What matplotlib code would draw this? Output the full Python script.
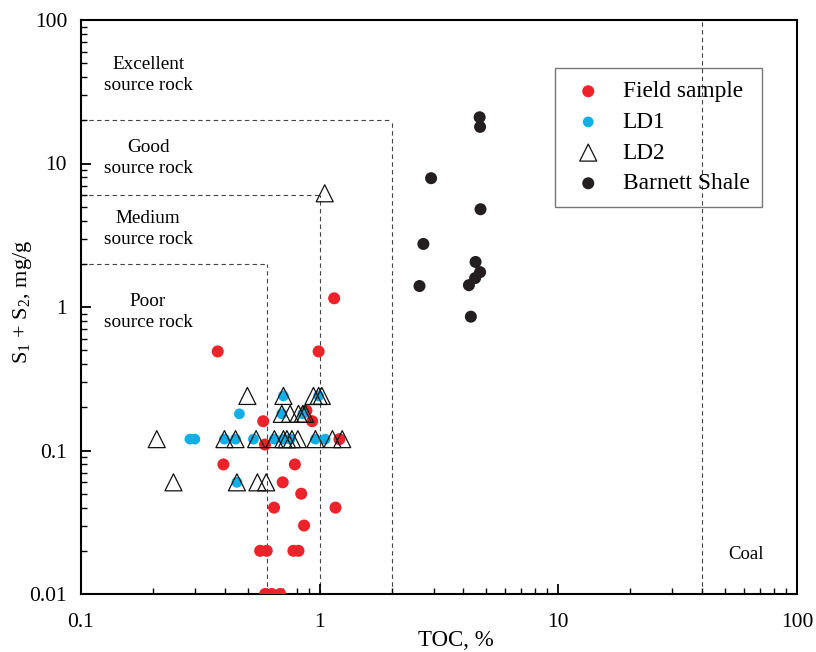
import matplotlib.pyplot as plt
from matplotlib.ticker import LogLocator, NullFormatter, FixedLocator, FixedFormatter

plt.rcParams['font.family'] = ['Liberation Serif', 'DejaVu Serif']
plt.rcParams['mathtext.fontset'] = 'custom'
plt.rcParams['mathtext.rm'] = 'Liberation Serif'

# Field sample (TOC %, S1+S2 mg/g)
field_toc = [0.374, 0.99, 1.15, 0.88, 0.58, 0.93, 1.21, 0.59, 0.395, 0.787, 0.70,
             0.837, 0.644, 1.165, 0.86, 0.563, 0.60, 0.776, 0.815, 0.591, 0.63, 0.683]
field_s = [0.49, 0.49, 1.15, 0.19, 0.16, 0.16, 0.12, 0.11, 0.08, 0.08, 0.06,
           0.05, 0.04, 0.04, 0.03, 0.02, 0.02, 0.02, 0.02, 0.01, 0.01, 0.01]

# LD1
ld1_toc = [0.461, 0.286, 0.30, 0.399, 0.444, 0.528, 0.646, 0.705, 0.752, 0.96,
           1.054, 0.705, 0.99, 0.694, 0.85, 0.45]
ld1_s = [0.18, 0.12, 0.12, 0.12, 0.12, 0.12, 0.12, 0.12, 0.12, 0.12,
         0.12, 0.24, 0.24, 0.18, 0.18, 0.06]

# LD2
ld2_toc = [1.05, 0.498, 0.705, 0.942, 0.99, 1.021,
           0.694, 0.752, 0.815, 0.85, 0.87,
           0.2077, 0.399, 0.444, 0.5417, 0.646, 0.705, 0.729, 0.765, 0.81, 0.96, 1.131, 1.243,
           0.244, 0.45, 0.5485, 0.597]
ld2_s = [6.2, 0.24, 0.24, 0.24, 0.24, 0.24,
         0.18, 0.18, 0.18, 0.18, 0.18,
         0.12, 0.12, 0.12, 0.12, 0.12, 0.12, 0.12, 0.12, 0.12, 0.12, 0.12, 0.12,
         0.06, 0.06, 0.06, 0.06]

# Barnett Shale
barnett_toc = [4.68, 4.70, 2.93, 4.72, 2.72, 4.50, 4.70, 4.48, 4.22, 2.62, 4.30]
barnett_s = [21.0, 18.0, 7.9, 4.8, 2.75, 2.06, 1.75, 1.59, 1.42, 1.40, 0.856]

# source rock class limits (TOC, S1+S2)
class_toc = [0.6, 1, 2]
class_s = [2, 6, 20]
coal_toc = 40
class_names = ["Poor\nsource rock", "Medium\nsource rock", "Good\nsource rock", "Excellent\nsource rock"]
class_label_y = [0.92, 3.5, 11.0, 41.5]

fig = plt.figure(figsize=(8.16, 6.52), dpi=100)
ax = fig.add_axes([81/816, 1-594/652, 716/816, 574/652])
ax.set_xscale('log')
ax.set_yscale('log')
ax.set_xlim(0.1, 100)
ax.set_ylim(0.01, 100)

dash = dict(color='#444444', lw=0.8, ls=(0, (4, 3)), zorder=1)
for t, s in zip(class_toc, class_s):
    ax.plot([t, t], [0.01, s], **dash)
    ax.plot([0.1, t], [s, s], **dash)
ax.plot([coal_toc, coal_toc], [0.01, 100], **dash)

for name, yy in zip(class_names, class_label_y):
    ax.text(0.191, yy, name, ha='center', va='center', fontsize=13.8, linespacing=1.3)
ax.text(61, 0.0187, "Coal", ha='center', va='center', fontsize=13.5)

ax.scatter(field_toc, field_s, s=75, color='#ee2229', edgecolors='none', label='Field sample', zorder=3)
ax.scatter(ld1_toc, ld1_s, s=60, color='#12aee8', edgecolors='none', label='LD1', zorder=3)
ax.scatter(ld2_toc, ld2_s, marker='^', s=150, facecolors='none', edgecolors='#111111',
           linewidths=0.9, label='LD2', zorder=4)
ax.scatter(barnett_toc, barnett_s, s=75, color='#231f20', edgecolors='none', label='Barnett Shale', zorder=3)

for sp in ax.spines.values():
    sp.set_linewidth(1.5)

ax.tick_params(which='both', direction='in', top=False, right=False, labelsize=15.5)
ax.tick_params(which='major', length=7, width=1.3)
ax.tick_params(which='minor', length=4, width=1.0)
ax.xaxis.set_major_locator(FixedLocator([0.1, 1, 10, 100]))
ax.xaxis.set_major_formatter(FixedFormatter(['0.1', '1', '10', '100']))
ax.yaxis.set_major_locator(FixedLocator([0.01, 0.1, 1, 10, 100]))
ax.yaxis.set_major_formatter(FixedFormatter(['0.01', '0.1', '1', '10', '100']))
ax.xaxis.set_minor_locator(LogLocator(base=10, subs=range(2, 10), numticks=20))
ax.yaxis.set_minor_locator(LogLocator(base=10, subs=range(2, 10), numticks=20))
ax.xaxis.set_minor_formatter(NullFormatter())
ax.yaxis.set_minor_formatter(NullFormatter())
ax.tick_params(axis='x', pad=14)
ax.tick_params(axis='y', pad=10)

# x label sits low, near the bottom edge as in the original
fig.text(456/816, 1.5/652, "TOC, %", ha='center', va='bottom', fontsize=16.5)
ax.set_ylabel(r"S$_\mathrm{1}$ + S$_\mathrm{2}$, mg/g", fontsize=16)
ax.yaxis.set_label_coords(-0.066, 0.508)

leg = ax.legend(loc='upper left', bbox_to_anchor=(0.662, 0.916), fontsize=16.8, frameon=True,
                fancybox=False, edgecolor='#555555', facecolor='none', framealpha=None,
                handletextpad=0.6, borderpad=0.55, labelspacing=0.4, borderaxespad=0,
                handlelength=1.75, scatterpoints=1)
leg.get_frame().set_linewidth(1.0)

fig.savefig("out.png", dpi=100)
